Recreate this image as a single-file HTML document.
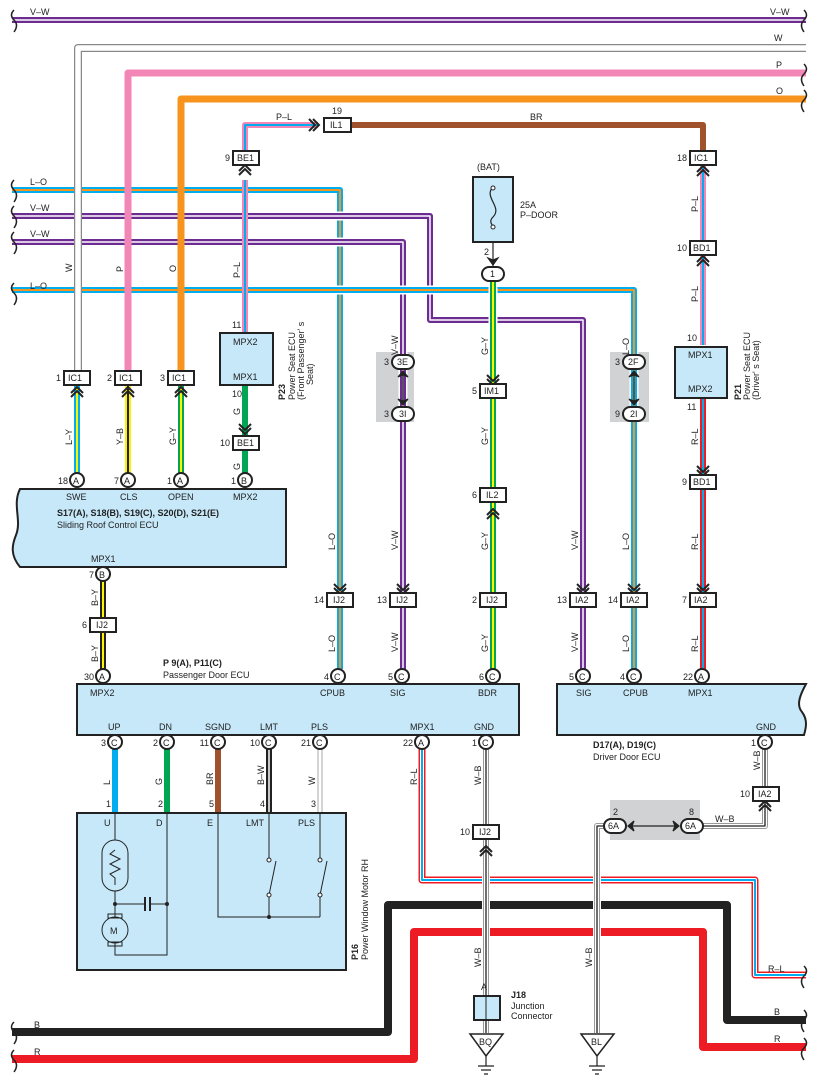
<!DOCTYPE html>
<html><head><meta charset="utf-8"><style>
body{margin:0;background:#fff}
svg{display:block}
text{font-family:"Liberation Sans",sans-serif;font-size:9px;fill:#222}
.b{font-weight:bold}
.e{text-anchor:end}
.w{fill:none;stroke-linejoin:round}
.box{fill:#fff;stroke:#222;stroke-width:2}
.ecu{fill:#c6e8f9;stroke:#222;stroke-width:2}
.ch{fill:none;stroke:#222;stroke-width:2}
</style></head><body>
<svg width="818" height="1087" viewBox="0 0 818 1087" xmlns="http://www.w3.org/2000/svg">
<rect x="376" y="352" width="38" height="70" fill="#d1d2d4"/>
<rect x="610" y="352" width="39" height="70" fill="#d1d2d4"/>
<rect x="610" y="800" width="90" height="40" fill="#d1d2d4"/>

<path class="w" d="M806 48 H78 V371" stroke="#888" stroke-width="8"/>
<path class="w" d="M806 48 H78 V371" stroke="#fff" stroke-width="5.5"/>
<path class="w" d="M806 73 H128 V371" stroke="#f287b7" stroke-width="7"/>
<path class="w" d="M806 99 H181 V371" stroke="#f7941d" stroke-width="7"/>
<path class="w" d="M12 20 H806" stroke="#6d2c91" stroke-width="6"/>
<path class="w" d="M12 20 H806" stroke="#fff" stroke-width="1.5"/>
<path class="w" d="M351 125 H703 V151" stroke="#a0522d" stroke-width="6"/>
<path class="w" d="M245 150 V125 H318" stroke="#f287b7" stroke-width="6"/>
<path class="w" d="M245 150 V125 H318" stroke="#00aeef" stroke-width="2"/>
<path class="w" d="M703 165 V345" stroke="#f287b7" stroke-width="6"/>
<path class="w" d="M703 165 V345" stroke="#00aeef" stroke-width="2"/>
<path class="w" d="M703 397 V669" stroke="#ed1c24" stroke-width="6"/>
<path class="w" d="M703 397 V669" stroke="#00aeef" stroke-width="2"/>

<path class="w" d="M12 190 H340 V669" stroke="#fff" stroke-width="9"/>
<path class="w" d="M12 190 H340 V669" stroke="#00aeef" stroke-width="6"/>
<path class="w" d="M12 190 H340 V669" stroke="#f7941d" stroke-width="2"/>
<path class="w" d="M12 216 H430 V320 H583 V669" stroke="#fff" stroke-width="9"/>
<path class="w" d="M12 216 H430 V320 H583 V669" stroke="#6d2c91" stroke-width="6"/>
<path class="w" d="M12 216 H430 V320 H583 V669" stroke="#fff" stroke-width="1.5"/>
<path class="w" d="M12 242 H403 V669" stroke="#fff" stroke-width="9"/>
<path class="w" d="M12 242 H403 V669" stroke="#6d2c91" stroke-width="6"/>
<path class="w" d="M12 242 H403 V669" stroke="#fff" stroke-width="1.5"/>
<path class="w" d="M12 290 H634 V669" stroke="#fff" stroke-width="9"/>
<path class="w" d="M12 290 H634 V669" stroke="#00aeef" stroke-width="6"/>
<path class="w" d="M12 290 H634 V669" stroke="#f7941d" stroke-width="2"/>
<path class="w" d="M493 281 V669" stroke="#fff" stroke-width="9"/>
<path class="w" d="M493 281 V669" stroke="#00a651" stroke-width="6"/>
<path class="w" d="M493 281 V669" stroke="#fff200" stroke-width="2"/>
<path class="w" d="M78 150 V371" stroke="#888" stroke-width="8"/>
<path class="w" d="M78 150 V371" stroke="#fff" stroke-width="5.5"/>
<path class="w" d="M128 150 V371" stroke="#f287b7" stroke-width="7"/>
<path class="w" d="M181 150 V371" stroke="#f7941d" stroke-width="7"/>
<path class="w" d="M245 180 V333" stroke="#f287b7" stroke-width="6"/>
<path class="w" d="M245 180 V333" stroke="#00aeef" stroke-width="2"/>

<path class="w" d="M77 385 V473" stroke="#00aeef" stroke-width="6"/><path class="w" d="M77 385 V473" stroke="#fff200" stroke-width="2"/>
<path class="w" d="M128 385 V473" stroke="#fff200" stroke-width="6"/><path class="w" d="M128 385 V473" stroke="#222" stroke-width="2"/>
<path class="w" d="M181 385 V473" stroke="#00a651" stroke-width="6"/><path class="w" d="M181 385 V473" stroke="#fff200" stroke-width="2"/>
<path class="w" d="M245 385 V473" stroke="#00a651" stroke-width="6"/>
<path class="w" d="M103 581 V669" stroke="#222" stroke-width="6"/><path class="w" d="M103 581 V669" stroke="#fff200" stroke-width="2"/>

<path class="w" d="M115 749 V813" stroke="#00aeef" stroke-width="6"/>
<path class="w" d="M167 749 V813" stroke="#00a651" stroke-width="6"/>
<path class="w" d="M218 749 V813" stroke="#a0522d" stroke-width="6"/>
<path class="w" d="M269 749 V813" stroke="#222" stroke-width="6"/><path class="w" d="M269 749 V813" stroke="#fff" stroke-width="1.5"/>
<path class="w" d="M320 749 V813" stroke="#aaa" stroke-width="5"/><path class="w" d="M320 749 V813" stroke="#fff" stroke-width="3"/>

<path class="w" d="M12 1032 H388 V905 H727 V1020 H806" stroke="#fff" stroke-width="12"/>
<path class="w" d="M12 1032 H388 V905 H727 V1020 H806" stroke="#222" stroke-width="8"/>
<path class="w" d="M12 1059 H414 V932 H703 V1047 H806" stroke="#fff" stroke-width="12"/>
<path class="w" d="M12 1059 H414 V932 H703 V1047 H806" stroke="#ed1c24" stroke-width="8"/>
<path class="w" d="M422 749 V880 H755 V975 H806" stroke="#fff" stroke-width="10"/>
<path class="w" d="M422 749 V880 H755 V975 H806" stroke="#ed1c24" stroke-width="7"/>
<path class="w" d="M422 749 V880 H755 V975 H806" stroke="#fff" stroke-width="4"/>
<path class="w" d="M422 749 V880 H755 V975 H806" stroke="#00aeef" stroke-width="2"/>
<path class="w" d="M486 749 V1033" stroke="#fff" stroke-width="8"/>
<path class="w" d="M486 749 V1033" stroke="#999" stroke-width="6"/>
<path class="w" d="M486 749 V1033" stroke="#fff" stroke-width="4"/>
<path class="w" d="M486 749 V1033" stroke="#222" stroke-width="1.3"/>
<path class="w" d="M765 749 V826 H700 M610 826 H597 V1033" stroke="#fff" stroke-width="8"/>
<path class="w" d="M765 749 V826 H700 M610 826 H597 V1033" stroke="#999" stroke-width="6"/>
<path class="w" d="M765 749 V826 H700 M610 826 H597 V1033" stroke="#fff" stroke-width="4"/>
<path class="w" d="M765 749 V826 H700 M610 826 H597 V1033" stroke="#222" stroke-width="1.3"/>

<g fill="none" stroke="#222" stroke-width="1.5">
<path d="M14 10 q-5 5 0 10 q5 5 0 12"/><path d="M14 180 q-5 5 0 10 q5 5 0 12"/><path d="M14 206 q-5 5 0 10 q5 5 0 12"/><path d="M14 232 q-5 5 0 10 q5 5 0 12"/><path d="M14 283 q-5 5 0 10 q5 5 0 12"/><path d="M14 1022 q-5 5 0 10 q5 5 0 12"/><path d="M14 1050 q-5 5 0 10 q5 5 0 12"/>
<path d="M804 10 q5 5 0 10 q-5 5 0 12"/><path d="M804 64 q5 5 0 10 q-5 5 0 12"/><path d="M804 90 q5 5 0 10 q-5 5 0 12"/><path d="M804 966 q5 5 0 10 q-5 5 0 12"/><path d="M804 1010 q5 5 0 10 q-5 5 0 12"/><path d="M804 1038 q5 5 0 10 q-5 5 0 12"/>
</g>

<text x="30" y="15">V–W</text><text x="770" y="15">V–W</text>
<text x="774" y="41">W</text><text x="776" y="68">P</text><text x="776" y="94">O</text>
<text x="530" y="120">BR</text><text x="276" y="120">P–L</text>
<text x="30" y="185">L–O</text><text x="30" y="211">V–W</text><text x="30" y="237">V–W</text><text x="30" y="289">L–O</text>
<text x="34" y="1028">B</text><text x="34" y="1055">R</text>
<text x="774" y="1015">B</text><text x="774" y="1042">R</text><text x="768" y="972">R–L</text>
<text x="715" y="822">W–B</text>
<g>
<text transform="translate(72,272) rotate(-90)">W</text>
<text transform="translate(123,272) rotate(-90)">P</text>
<text transform="translate(176,272) rotate(-90)">O</text>
<text transform="translate(240,278) rotate(-90)">P–L</text>
<text transform="translate(72,445) rotate(-90)">L–Y</text>
<text transform="translate(123,445) rotate(-90)">Y–B</text>
<text transform="translate(176,445) rotate(-90)">G–Y</text>
<text transform="translate(240,415) rotate(-90)">G</text>
<text transform="translate(240,470) rotate(-90)">G</text>
<text transform="translate(398,355) rotate(-90)">V–W</text>
<text transform="translate(398,550) rotate(-90)">V–W</text>
<text transform="translate(398,652) rotate(-90)">V–W</text>
<text transform="translate(335,550) rotate(-90)">L–O</text>
<text transform="translate(335,652) rotate(-90)">L–O</text>
<text transform="translate(488,355) rotate(-90)">G–Y</text>
<text transform="translate(488,445) rotate(-90)">G–Y</text>
<text transform="translate(488,550) rotate(-90)">G–Y</text>
<text transform="translate(488,652) rotate(-90)">G–Y</text>
<text transform="translate(578,550) rotate(-90)">V–W</text>
<text transform="translate(578,652) rotate(-90)">V–W</text>
<text transform="translate(629,355) rotate(-90)">L–O</text>
<text transform="translate(629,550) rotate(-90)">L–O</text>
<text transform="translate(629,652) rotate(-90)">L–O</text>
<text transform="translate(698,212) rotate(-90)">P–L</text>
<text transform="translate(698,302) rotate(-90)">P–L</text>
<text transform="translate(698,445) rotate(-90)">R–L</text>
<text transform="translate(698,550) rotate(-90)">R–L</text>
<text transform="translate(698,652) rotate(-90)">R–L</text>
<text transform="translate(98,606) rotate(-90)">B–Y</text>
<text transform="translate(98,662) rotate(-90)">B–Y</text>
<text transform="translate(110,785) rotate(-90)">L</text>
<text transform="translate(162,785) rotate(-90)">G</text>
<text transform="translate(213,785) rotate(-90)">BR</text>
<text transform="translate(264,785) rotate(-90)">B–W</text>
<text transform="translate(315,785) rotate(-90)">W</text>
<text transform="translate(417,785) rotate(-90)">R–L</text>
<text transform="translate(481,785) rotate(-90)">W–B</text>
<text transform="translate(481,967) rotate(-90)">W–B</text>
<text transform="translate(592,967) rotate(-90)">W–B</text>
<text transform="translate(760,770) rotate(-90)">W–B</text>
</g>

<g class="ch">
<path d="M71 393 l6 -6 l6 6 M71 397 l6 -6 l6 6"/>
<path d="M122 393 l6 -6 l6 6 M122 397 l6 -6 l6 6"/>
<path d="M175 393 l6 -6 l6 6 M175 397 l6 -6 l6 6"/>
<path d="M239 171 l6 -6 l6 6 M239 175 l6 -6 l6 6"/>
<path d="M697 172 l6 -6 l6 6 M697 176 l6 -6 l6 6"/>
<path d="M697 262 l6 -6 l6 6 M697 266 l6 -6 l6 6"/>
<path d="M487 515 l6 -6 l6 6 M487 519 l6 -6 l6 6"/>
<path d="M480 852 l6 -6 l6 6 M480 856 l6 -6 l6 6"/>
<path d="M759 807 l6 -6 l6 6 M759 811 l6 -6 l6 6"/>
<path d="M239 424 l6 6 l6 -6 M239 428 l6 6 l6 -6"/>
<path d="M487 375 l6 6 l6 -6 M487 379 l6 6 l6 -6"/>
<path d="M334 584 l6 6 l6 -6 M334 588 l6 6 l6 -6"/>
<path d="M397 584 l6 6 l6 -6 M397 588 l6 6 l6 -6"/>
<path d="M577 584 l6 6 l6 -6 M577 588 l6 6 l6 -6"/>
<path d="M628 584 l6 6 l6 -6 M628 588 l6 6 l6 -6"/>
<path d="M697 584 l6 6 l6 -6 M697 588 l6 6 l6 -6"/>
<path d="M697 466 l6 6 l6 -6 M697 470 l6 6 l6 -6"/>
<path d="M309 119 l6 6 l-6 6 M313 119 l6 6 l-6 6"/>
</g>

<g>
<rect class="box" x="64" y="371" width="26" height="14"/><text x="68" y="381">IC1</text><text class="e" x="61" y="381">1</text>
<rect class="box" x="115" y="371" width="26" height="14"/><text x="119" y="381">IC1</text><text class="e" x="112" y="381">2</text>
<rect class="box" x="168" y="371" width="26" height="14"/><text x="172" y="381">IC1</text><text class="e" x="165" y="381">3</text>
<rect class="box" x="233" y="151" width="26" height="14"/><text x="237" y="161">BE1</text><text class="e" x="230" y="161">9</text>
<rect class="box" x="233" y="436" width="26" height="14"/><text x="237" y="446">BE1</text><text class="e" x="230" y="446">10</text>
<rect class="box" x="324" y="118" width="27" height="14"/><text x="330" y="128">IL1</text><text x="332" y="114">19</text>
<rect class="box" x="690" y="151" width="26" height="14"/><text x="694" y="161">IC1</text><text class="e" x="687" y="161">18</text>
<rect class="box" x="690" y="241" width="26" height="14"/><text x="693" y="251">BD1</text><text class="e" x="687" y="251">10</text>
<rect class="box" x="690" y="475" width="26" height="14"/><text x="693" y="485">BD1</text><text class="e" x="687" y="485">9</text>
<rect class="box" x="690" y="593" width="26" height="14"/><text x="694" y="603">IA2</text><text class="e" x="687" y="603">7</text>
<rect class="box" x="327" y="593" width="26" height="14"/><text x="333" y="603">IJ2</text><text class="e" x="324" y="603">14</text>
<rect class="box" x="390" y="593" width="26" height="14"/><text x="396" y="603">IJ2</text><text class="e" x="387" y="603">13</text>
<rect class="box" x="480" y="593" width="26" height="14"/><text x="486" y="603">IJ2</text><text class="e" x="477" y="603">2</text>
<rect class="box" x="570" y="593" width="26" height="14"/><text x="575" y="603">IA2</text><text class="e" x="567" y="603">13</text>
<rect class="box" x="621" y="593" width="26" height="14"/><text x="626" y="603">IA2</text><text class="e" x="618" y="603">14</text>
<rect class="box" x="480" y="384" width="26" height="14"/><text x="484" y="394">IM1</text><text class="e" x="477" y="394">5</text>
<rect class="box" x="480" y="488" width="26" height="14"/><text x="486" y="498">IL2</text><text class="e" x="477" y="498">6</text>
<rect class="box" x="90" y="618" width="26" height="14"/><text x="96" y="628">IJ2</text><text class="e" x="87" y="628">6</text>
<rect class="box" x="473" y="825" width="26" height="14"/><text x="479" y="835">IJ2</text><text class="e" x="470" y="835">10</text>
<rect class="box" x="753" y="787" width="26" height="14"/><text x="758" y="797">IA2</text><text class="e" x="750" y="797">10</text>
</g>

<g>
<rect class="box" x="392" y="355" width="22" height="14" rx="7"/><text x="397" y="365">3E</text><text class="e" x="389" y="365">3</text>
<rect class="box" x="392" y="407" width="22" height="14" rx="7"/><text x="399" y="417">3I</text><text class="e" x="389" y="417">3</text>
<rect class="box" x="623" y="355" width="22" height="14" rx="7"/><text x="628" y="365">2F</text><text class="e" x="620" y="365">3</text>
<rect class="box" x="623" y="407" width="22" height="14" rx="7"/><text x="630" y="417">2I</text><text class="e" x="620" y="417">9</text>
<rect class="box" x="482" y="267" width="22" height="14" rx="7"/><text x="490" y="277">1</text>
<rect class="box" x="604" y="819" width="22" height="14" rx="7"/><text x="608" y="829">6A</text><text x="613" y="815">2</text>
<rect class="box" x="681" y="819" width="22" height="14" rx="7"/><text x="685" y="829">6A</text><text x="689" y="815">8</text>
</g>
<g stroke="#222" stroke-width="1.2" fill="#222">
<line x1="403" y1="372" x2="403" y2="404"/><path d="M398 377 l5 -6 l5 6 l-5 -2z M398 399 l5 6 l5 -6 l-5 2z"/>
<line x1="634" y1="372" x2="634" y2="404"/><path d="M629 377 l5 -6 l5 6 l-5 -2z M629 399 l5 6 l5 -6 l-5 2z"/>
<line x1="628" y1="826" x2="679" y2="826"/><path d="M634 821 l-6 5 l6 5 l-2 -5z M673 821 l6 5 l-6 5 l2 -5z"/>
<line x1="493" y1="242" x2="493" y2="266"/><path d="M488 258 l5 7 l5 -7 l-5 2z"/>
</g>

<rect class="ecu" x="473" y="177" width="40" height="65"/>
<path d="M493 187 c-10 10 10 20 0 30 c-5 5 0 8 0 10" fill="none" stroke="#222" stroke-width="1.2"/>
<circle cx="493" cy="188" r="2" fill="#fff" stroke="#222"/><circle cx="493" cy="227" r="2" fill="#fff" stroke="#222"/>
<text x="477" y="170">(BAT)</text><text x="520" y="208">25A</text><text x="520" y="218">P–DOOR</text><text x="484" y="255">2</text>

<rect class="ecu" x="220" y="333" width="53" height="52"/>
<text x="233" y="345">MPX2</text><text x="233" y="380">MPX1</text><text x="232" y="328">11</text><text x="232" y="397">10</text>
<text class="b" transform="translate(285,400) rotate(-90)">P23</text>
<text transform="translate(295,400) rotate(-90)">Power Seat ECU</text>
<text transform="translate(304,400) rotate(-90)">(Front Passenger' s</text>
<text transform="translate(313,385) rotate(-90)">Seat)</text>
<rect class="ecu" x="675" y="347" width="52" height="51"/>
<text x="688" y="358">MPX1</text><text x="688" y="392">MPX2</text><text x="687" y="341">10</text><text x="687" y="410">11</text>
<text class="b" transform="translate(741,400) rotate(-90)">P21</text>
<text transform="translate(750,400) rotate(-90)">Power Seat ECU</text>
<text transform="translate(759,400) rotate(-90)">(Driver' s Seat)</text>

<path class="ecu" d="M20 489 H286 V567 H20 C10 555 12 545 16 535 C22 520 12 505 20 489 Z"/>
<text x="66" y="500">SWE</text><text x="120" y="500">CLS</text><text x="168" y="500">OPEN</text><text x="233" y="500">MPX2</text>
<text class="b" x="57" y="516">S17(A), S18(B), S19(C), S20(D), S21(E)</text>
<text x="57" y="528">Sliding Roof Control ECU</text>
<text x="91" y="562">MPX1</text>

<rect class="ecu" x="77" y="684" width="442" height="51"/>
<text class="b" x="163" y="666">P 9(A), P11(C)</text><text x="163" y="678">Passenger Door ECU</text>
<text x="90" y="696">MPX2</text><text x="320" y="696">CPUB</text><text x="390" y="696">SIG</text><text x="478" y="696">BDR</text>
<text x="108" y="730">UP</text><text x="159" y="730">DN</text><text x="205" y="730">SGND</text><text x="260" y="730">LMT</text><text x="311" y="730">PLS</text><text x="410" y="730">MPX1</text><text x="474" y="730">GND</text>

<path class="ecu" d="M557 684 H806 C800 695 796 705 802 712 C808 720 806 728 804 735 H557 Z"/>
<text x="576" y="696">SIG</text><text x="623" y="696">CPUB</text><text x="688" y="696">MPX1</text><text x="756" y="730">GND</text>
<text class="b" x="593" y="748">D17(A), D19(C)</text><text x="593" y="760">Driver Door ECU</text>

<g>
<circle class="box" cx="77" cy="480" r="7"/><text x="73" y="484">A</text><text class="e" x="68" y="484">18</text>
<circle class="box" cx="128" cy="480" r="7"/><text x="124" y="484">A</text><text class="e" x="119" y="484">7</text>
<circle class="box" cx="181" cy="480" r="7"/><text x="177" y="484">A</text><text class="e" x="172" y="484">1</text>
<circle class="box" cx="245" cy="480" r="7"/><text x="241" y="484">B</text><text class="e" x="236" y="484">1</text>
<circle class="box" cx="103" cy="574" r="7"/><text x="99" y="578">B</text><text class="e" x="94" y="578">7</text>
<circle class="box" cx="103" cy="676" r="7"/><text x="99" y="680">A</text><text class="e" x="94" y="680">30</text>
<circle class="box" cx="338" cy="676" r="7"/><text x="334" y="680">C</text><text class="e" x="329" y="680">4</text>
<circle class="box" cx="402" cy="676" r="7"/><text x="398" y="680">C</text><text class="e" x="393" y="680">5</text>
<circle class="box" cx="493" cy="676" r="7"/><text x="489" y="680">C</text><text class="e" x="484" y="680">6</text>
<circle class="box" cx="583" cy="676" r="7"/><text x="579" y="680">C</text><text class="e" x="574" y="680">5</text>
<circle class="box" cx="634" cy="676" r="7"/><text x="630" y="680">C</text><text class="e" x="625" y="680">4</text>
<circle class="box" cx="702" cy="676" r="7"/><text x="698" y="680">A</text><text class="e" x="693" y="680">22</text>
<circle class="box" cx="115" cy="742" r="7"/><text x="111" y="746">C</text><text class="e" x="106" y="746">3</text>
<circle class="box" cx="167" cy="742" r="7"/><text x="163" y="746">C</text><text class="e" x="158" y="746">2</text>
<circle class="box" cx="218" cy="742" r="7"/><text x="214" y="746">C</text><text class="e" x="209" y="746">11</text>
<circle class="box" cx="269" cy="742" r="7"/><text x="265" y="746">C</text><text class="e" x="260" y="746">10</text>
<circle class="box" cx="320" cy="742" r="7"/><text x="316" y="746">C</text><text class="e" x="311" y="746">21</text>
<circle class="box" cx="422" cy="742" r="7"/><text x="418" y="746">A</text><text class="e" x="413" y="746">22</text>
<circle class="box" cx="486" cy="742" r="7"/><text x="482" y="746">C</text><text class="e" x="477" y="746">1</text>
<circle class="box" cx="765" cy="742" r="7"/><text x="761" y="746">C</text><text class="e" x="756" y="746">1</text>
</g>

<rect class="ecu" x="77" y="813" width="269" height="157"/>
<text x="106" y="807">1</text><text x="158" y="807">2</text><text x="209" y="807">5</text><text x="260" y="807">4</text><text x="311" y="807">3</text>
<text x="104" y="826">U</text><text x="156" y="826">D</text><text x="207" y="826">E</text><text x="246" y="826">LMT</text><text x="298" y="826">PLS</text>
<g fill="none" stroke="#222" stroke-width="1">
<path d="M115 813 V840 M115 891 V917 M115 943 V955 H167 V813"/>
<rect x="102" y="840" width="26" height="51" rx="13"/>
<path d="M115 850 l-5 4 l10 5 l-10 5 l10 5 l-10 5 l5 4 V885"/>
<path d="M115 904 H145 M150 904 H167"/>
<path d="M145 897 V911 M150 897 V911" stroke-width="2"/>
<circle cx="115" cy="930" r="13" fill="#c6e8f9"/>
<rect x="108" y="914" width="14" height="4"/><rect x="108" y="942" width="14" height="4"/>
<path d="M218 813 V917 H320 M269 813 V860 M269 895 V917 M320 813 V860 M320 895 V917"/>
<path d="M269 895 L276 861 M320 895 L327 861"/>
</g>
<g fill="#fff" stroke="#222"><circle cx="269" cy="860" r="2"/><circle cx="269" cy="895" r="2"/><circle cx="320" cy="860" r="2"/><circle cx="320" cy="895" r="2"/></g>
<g fill="#222"><circle cx="115" cy="904" r="2"/><circle cx="167" cy="904" r="2"/><circle cx="269" cy="917" r="2"/></g>
<text x="110" y="934">M</text>
<text class="b" transform="translate(358,960) rotate(-90)">P16</text>
<text transform="translate(368,960) rotate(-90)">Power Window Motor RH</text>

<rect class="ecu" x="474" y="996" width="26" height="24"/>
<line x1="486" y1="996" x2="486" y2="1020" stroke="#222"/>
<text x="481" y="990">A</text>
<text class="b" x="511" y="998">J18</text><text x="511" y="1009">Junction</text><text x="511" y="1019">Connector</text>

<g fill="#fff" stroke="#222" stroke-width="1.5">
<path d="M470 1034 H503 L486 1056 Z"/><path d="M581 1034 H614 L597 1056 Z"/>
</g>
<g stroke="#222" stroke-width="1.2">
<path d="M486 1056 V1066 M478 1066 H494 M481 1070 H491 M484 1074 H488"/>
<path d="M597 1056 V1066 M589 1066 H605 M592 1070 H602 M595 1074 H599"/>
</g>
<text x="479" y="1045">BQ</text><text x="591" y="1045">BL</text>
</svg>
</body></html>
